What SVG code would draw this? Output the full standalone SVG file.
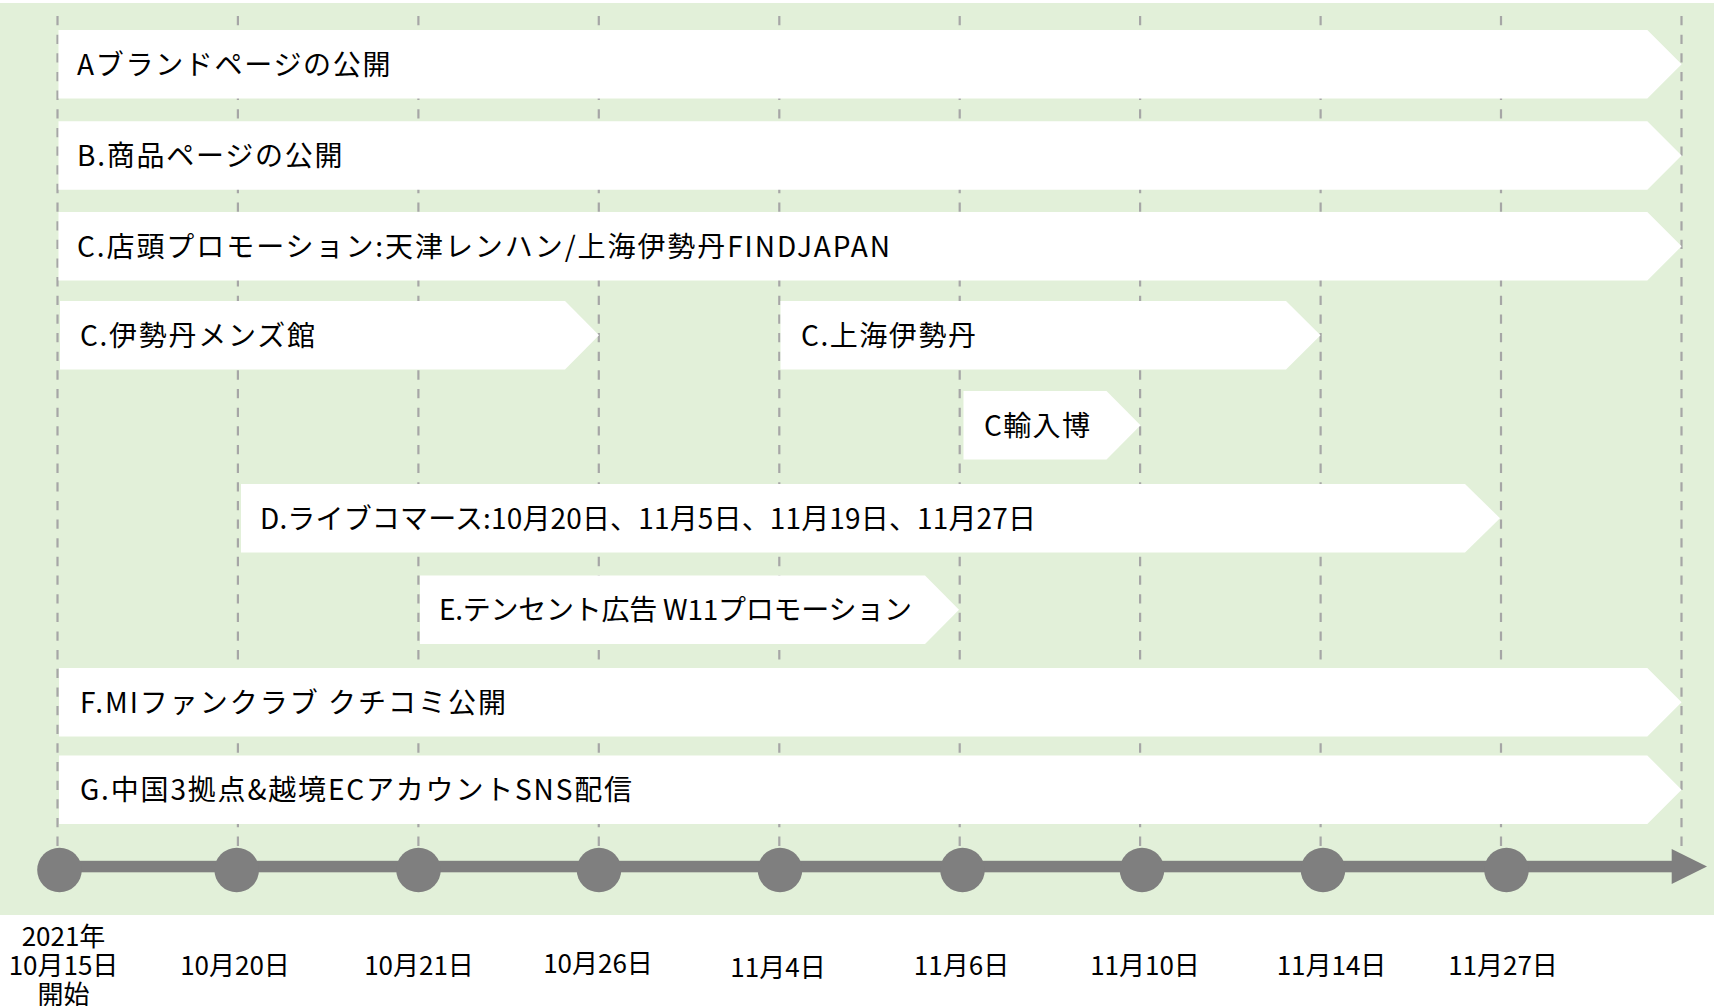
<svg xmlns="http://www.w3.org/2000/svg" width="1714" height="1006" viewBox="0 0 1714 1006">
<style>
.bg{fill:#e2f0d9}
.grid{stroke:#a6a6a6;stroke-width:2.2;stroke-dasharray:9.3 9.35;fill:none}
.bar{fill:#ffffff}
.bt{font-family:"Noto Sans CJK JP","Noto Sans",sans-serif;font-size:28px;fill:#000000}
.axis{fill:#7f7f7f}
.lbl{font-family:"Noto Sans CJK JP","Noto Sans",sans-serif;font-size:26px;fill:#000000;text-anchor:middle}
</style>
<rect class="bg" x="0" y="3" width="1714" height="912"/>
<g id="gridlines">
<line class="grid" x1="57.5" y1="16" x2="57.5" y2="846"/>
<line class="grid" x1="237.9" y1="16" x2="237.9" y2="846"/>
<line class="grid" x1="418.4" y1="16" x2="418.4" y2="846"/>
<line class="grid" x1="598.8" y1="16" x2="598.8" y2="846"/>
<line class="grid" x1="779.3" y1="16" x2="779.3" y2="846"/>
<line class="grid" x1="959.7" y1="16" x2="959.7" y2="846"/>
<line class="grid" x1="1140.1" y1="16" x2="1140.1" y2="846"/>
<line class="grid" x1="1320.6" y1="16" x2="1320.6" y2="846"/>
<line class="grid" x1="1501" y1="16" x2="1501" y2="846"/>
<line class="grid" x1="1681.5" y1="16" x2="1681.5" y2="846"/>
</g>
<g id="barA"><polygon class="bar" points="58.5,30 1647.3,30 1681.6,64.25 1647.3,98.5 58.5,98.5"/><text class="bt" x="77" y="74.5" textLength="313.5" lengthAdjust="spacing">Aブランドページの公開</text></g>
<g id="barB"><polygon class="bar" points="58.5,121.3 1647.3,121.3 1681.6,155.55 1647.3,189.8 58.5,189.8"/><text class="bt" x="77" y="165.8" textLength="265.5" lengthAdjust="spacing">B.商品ページの公開</text></g>
<g id="barC"><polygon class="bar" points="58.5,212 1647.3,212 1681.6,246.25 1647.3,280.5 58.5,280.5"/><text class="bt" x="77" y="256.5" textLength="813" lengthAdjust="spacing">C.店頭プロモーション:天津レンハン/上海伊勢丹FINDJAPAN</text></g>
<g id="barC1"><polygon class="bar" points="60,301 565,301 599,335.25 565,369.5 60,369.5"/><text class="bt" x="80" y="345.5" textLength="235" lengthAdjust="spacing">C.伊勢丹メンズ館</text></g>
<g id="barC2"><polygon class="bar" points="780.5,301 1286,301 1320.5,335.25 1286,369.5 780.5,369.5"/><text class="bt" x="801" y="345.5" textLength="175" lengthAdjust="spacing">C.上海伊勢丹</text></g>
<g id="barC3"><polygon class="bar" points="963.5,391 1106.5,391 1140.5,425.25 1106.5,459.5 963.5,459.5"/><text class="bt" x="984" y="435.5" textLength="106" lengthAdjust="spacing">C輸入博</text></g>
<g id="barD"><polygon class="bar" points="241,484 1465,484 1500,518.25 1465,552.5 241,552.5"/><text class="bt" x="260" y="528.5" textLength="776" lengthAdjust="spacing">D.ライブコマース:10月20日、11月5日、11月19日、11月27日</text></g>
<g id="barE"><polygon class="bar" points="420,575.5 925,575.5 959,609.75 925,644 420,644"/><text class="bt" x="439" y="620" textLength="473" lengthAdjust="spacing">E.テンセント広告 W11プロモーション</text></g>
<g id="barF"><polygon class="bar" points="59,668 1647.3,668 1681.6,702.25 1647.3,736.5 59,736.5"/><text class="bt" x="80" y="712.5" textLength="426" lengthAdjust="spacing">F.MIファンクラブ クチコミ公開</text></g>
<g id="barG"><polygon class="bar" points="59,755.5 1647.3,755.5 1681.6,789.75 1647.3,824 59,824"/><text class="bt" x="80" y="800" textLength="552" lengthAdjust="spacing">G.中国3拠点&amp;越境ECアカウントSNS配信</text></g>
<g id="connectors">
<rect class="axis" x="59" y="860.8" width="1614" height="11.5"/>
<polygon class="axis" points="1671.7,849 1707,866.5 1671.7,884"/>
</g>
<g id="m1"><circle class="axis" cx="59.5" cy="870" r="22.3"/><text class="lbl" x="63.5" y="945.5">2021年</text><text class="lbl" x="63.5" y="975">10月15日</text><text class="lbl" x="63.5" y="1004">開始</text></g>
<g id="m2"><circle class="axis" cx="236.7" cy="870" r="22.3"/><text class="lbl" x="235" y="975">10月20日</text></g>
<g id="m3"><circle class="axis" cx="418.5" cy="870" r="22.3"/><text class="lbl" x="419" y="975">10月21日</text></g>
<g id="m4"><circle class="axis" cx="599" cy="870" r="22.3"/><text class="lbl" x="598" y="973">10月26日</text></g>
<g id="m5"><circle class="axis" cx="780" cy="870" r="22.3"/><text class="lbl" x="778" y="976.5">11月4日</text></g>
<g id="m6"><circle class="axis" cx="962.5" cy="870" r="22.3"/><text class="lbl" x="961.5" y="975">11月6日</text></g>
<g id="m7"><circle class="axis" cx="1142" cy="870" r="22.3"/><text class="lbl" x="1145" y="975">11月10日</text></g>
<g id="m8"><circle class="axis" cx="1323" cy="870" r="22.3"/><text class="lbl" x="1331.5" y="975">11月14日</text></g>
<g id="m9"><circle class="axis" cx="1506.5" cy="870" r="22.3"/><text class="lbl" x="1503" y="975">11月27日</text></g>
</svg>
